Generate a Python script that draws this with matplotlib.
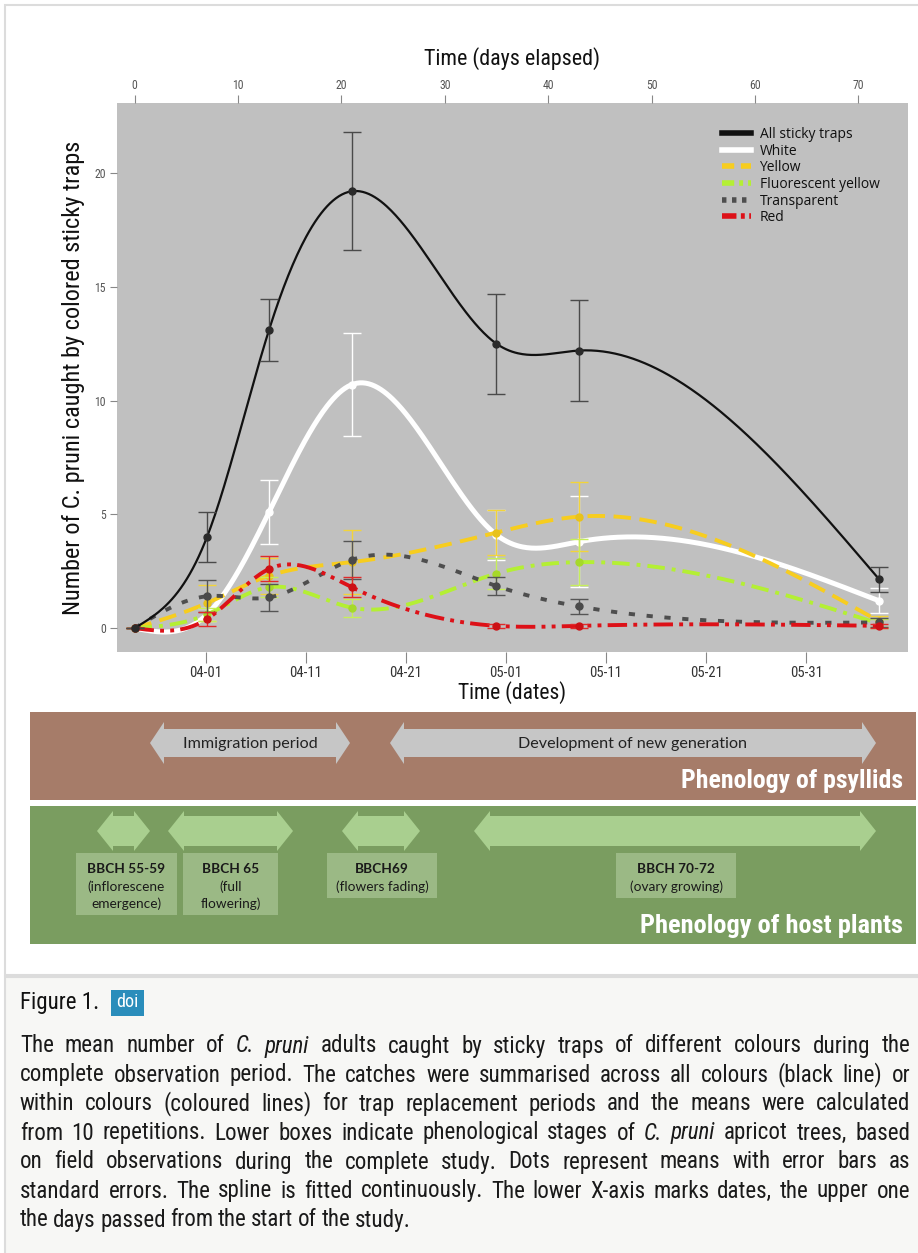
import matplotlib
matplotlib.use('Agg')
import matplotlib.pyplot as plt
import numpy as np
from matplotlib import font_manager
from matplotlib.patches import Rectangle, Polygon
from matplotlib.lines import Line2D

# sampling days (days elapsed) with mean catches and standard errors
days = [0, 7, 13, 21, 35, 43, 72]
all_mean = [0, 4.0, 13.1, 19.2, 12.5, 12.2, 2.15]
all_se = [0, 1.1, 1.35, 2.6, 2.2, 2.2, 0.55]
white_mean = [0, 0.6, 5.1, 10.7, 4.1, 3.8, 1.2]
white_se = [0, 0.3, 1.4, 2.25, 1.1, 2.0, 0.55]
yellow_mean = [0, 1.1, 2.3, 2.9, 4.2, 4.9, 0.3]
yellow_se = [0, 0.8, 0.8, 1.4, 1.0, 1.5, 0.25]
fluo_mean = [0, 0.6, 1.8, 0.9, 2.4, 2.9, 0.2]
fluo_se = [0, 0.3, 0.45, 0.4, 0.7, 1.0, 0.2]
transp_mean = [0, 1.4, 1.35, 3.0, 1.85, 0.95, 0.25]
transp_se = [0, 0.7, 0.6, 0.85, 0.4, 0.33, 0.2]
red_mean = [0, 0.4, 2.6, 1.8, 0.1, 0.1, 0.1]
red_se = [0, 0.3, 0.55, 0.45, 0.08, 0.08, 0.08]

day_ticks = [0, 10, 20, 30, 40, 50, 60, 70]
date_ticks = [0, 10, 20, 30, 40, 50, 60]          # days after 1 April
date_labels = ['04-01', '04-11', '04-21', '05-01', '05-11', '05-21', '05-31']
y_ticks = [0, 5, 10, 15, 20]

# phenology bars (pixel spans on the page)
psyllid_stages = [('Immigration period', 150, 350), ('Development of new generation', 390, 876)]
plant_arrows = [(97, 150), (168, 293), (342, 420), (474, 876)]
plant_labels = [
    (76, 177, 915, ['BBCH 55-59', '(inflorescene', 'emergence)']),
    (183, 278, 915, ['BBCH 65', '(full', 'flowering)']),
    (327, 437, 898, ['BBCH69', '(flowers fading)']),
    (616, 736, 898, ['BBCH 70-72', '(ovary growing)']),
]

caption = [
    "The mean number of *C.* *pruni* adults caught by sticky traps of different colours during the",
    "complete observation period. The catches were summarised across all colours (black line) or",
    "within colours (coloured lines) for trap replacement periods and the means were calculated",
    "from 10 repetitions. Lower boxes indicate phenological stages of *C.* *pruni* apricot trees, based",
    "on field observations during the complete study. Dots represent means with error bars as",
    "standard errors. The spline is fitted continuously. The lower X-axis marks dates, the upper one",
    "the days passed from the start of the study.",
]

names = {f.name for f in font_manager.fontManager.ttflist}
NARROW = 'Liberation Sans'
for cand in ['Liberation Sans Narrow', 'Roboto Condensed', 'Arial Narrow', 'Open Sans Condensed']:
    if cand in names:
        NARROW = cand
        break
# size factor so text keeps the reference widths whichever family was found
K = 1.0 if NARROW != 'Liberation Sans' else 0.88
BODY = 'Lato' if 'Lato' in names else 'DejaVu Sans'
UI = 'Open Sans' if 'Open Sans' in names else 'DejaVu Sans'


def natural_spline(x, y, num=500):
    x = np.asarray(x, float)
    y = np.asarray(y, float)
    n = len(x)
    h = np.diff(x)
    A = np.zeros((n, n))
    r = np.zeros(n)
    A[0, 0] = A[-1, -1] = 1
    for i in range(1, n - 1):
        A[i, i - 1] = h[i - 1]
        A[i, i] = 2 * (h[i - 1] + h[i])
        A[i, i + 1] = h[i]
        r[i] = 3 * ((y[i + 1] - y[i]) / h[i] - (y[i] - y[i - 1]) / h[i - 1])
    c = np.linalg.solve(A, r)
    b = (y[1:] - y[:-1]) / h - h * (2 * c[:-1] + c[1:]) / 3
    d = (c[1:] - c[:-1]) / (3 * h)
    xs = np.linspace(x[0], x[-1], num)
    k = np.clip(np.searchsorted(x, xs, side='right') - 1, 0, n - 2)
    t = xs - x[k]
    return xs, y[k] + b[k] * t + c[k] * t ** 2 + d[k] * t ** 3


def darrow(ax, x0, x1, yc, body, head, hw, color):
    pts = [(x0, yc), (x0 + hw, yc - head / 2), (x0 + hw, yc - body / 2), (x1 - hw, yc - body / 2),
           (x1 - hw, yc - head / 2), (x1, yc), (x1 - hw, yc + head / 2), (x1 - hw, yc + body / 2),
           (x0 + hw, yc + body / 2), (x0 + hw, yc + head / 2)]
    ax.add_patch(Polygon(pts, closed=True, facecolor=color, edgecolor='none'))


W, H = 918, 1253
fig = plt.figure(figsize=(W / 100, H / 100), dpi=100, facecolor='white')

# page layer in pixel coordinates
deco = fig.add_axes([0, 0, 1, 1], zorder=0)
deco.set_xlim(0, W)
deco.set_ylim(H, 0)
deco.axis('off')
deco.add_patch(Rectangle((5, 5), W, 970, facecolor='white', edgecolor='#dcdcdc', lw=1.5))
deco.add_patch(Rectangle((5, 977), W, H, facecolor='#f7f7f5', edgecolor='#dcdcdc', lw=1.5))

# psyllid phenology
deco.add_patch(Rectangle((30, 712), 886, 88, facecolor='#a67c69', edgecolor='none'))
for name, x0, x1 in psyllid_stages:
    darrow(deco, x0, x1, 743, 28, 42, 14, '#c6c6c6')
    deco.text((x0 + x1) / 2, 744, name, ha='center', va='center', fontsize=11.6,
              family=BODY, color='#222222')
deco.text(903, 781, 'Phenology of psyllids', ha='right', va='center', fontsize=18.5 * K,
          family=NARROW, weight='bold', color='white')

# host plant phenology
deco.add_patch(Rectangle((30, 806), 886, 138, facecolor='#7a9d60', edgecolor='none'))
for x0, x1 in plant_arrows:
    darrow(deco, x0, x1, 831, 30, 40, 16, '#a9cf8f')
for x0, x1, yb, lines in plant_labels:
    deco.add_patch(Rectangle((x0, 853), x1 - x0, yb - 853, facecolor='#9bb985', edgecolor='none'))
    for i, s in enumerate(lines):
        deco.text((x0 + x1) / 2, 869 + 17.5 * i, s, ha='center', va='center', fontsize=9.8,
                  family=BODY, weight='bold' if i == 0 else 'normal', color='#1a1a1a')
deco.text(903, 926, 'Phenology of host plants', ha='right', va='center', fontsize=19 * K,
          family=NARROW, weight='bold', color='white')

# caption
deco.text(20, 1003, 'Figure 1.', ha='left', va='center', fontsize=16.5 * K, family=NARROW, color='#111111')
deco.add_patch(Rectangle((111, 990), 33, 26, facecolor='#2a8dbb', edgecolor='none'))
deco.text(127.5, 1002, 'doi', ha='center', va='center', fontsize=13 * K, family=NARROW, color='white')

renderer = fig.canvas.get_renderer()
left, right = 20, 910
for li, line in enumerate(caption):
    y = 1046 + 29 * li
    words = line.split(' ')
    arts = []
    for w in words:
        ital = w.startswith('*')
        t = deco.text(0, y, w.strip('*'), ha='left', va='center', fontsize=16.6 * K, family=NARROW,
                      style='italic' if ital else 'normal', color='#1a1a1a')
        arts.append(t)
    widths = [a.get_window_extent(renderer).width for a in arts]
    if li < len(caption) - 1:
        gap = (right - left - sum(widths)) / (len(words) - 1)
    else:
        gap = 4.5
    x = left
    for a, wd in zip(arts, widths):
        a.set_x(x)
        x += wd + gap

# main chart
ax = fig.add_axes([117 / W, 1 - 652 / H, (908 - 117) / W, (652 - 103) / H], zorder=2)
ax.set_facecolor('#c0c0c0')
for s in ax.spines.values():
    s.set_visible(False)

series = [
    ('White', white_mean, white_se, 'white', 3.6, None, 'white', 'white', 3),
    ('Yellow', yellow_mean, yellow_se, '#f7cd1f', 2.8, (4.5, 2.2), '#f2d43a', '#e8c21a', 4),
    ('Fluorescent yellow', fluo_mean, fluo_se, '#b4ef34', 2.8, (4.5, 1.8, 1.0, 1.8), '#c6ee5a', '#a6d92a', 5),
    ('Transparent', transp_mean, transp_se, '#4e4e4e', 2.8, (1.6, 3.0), '#555555', '#4a4a4a', 6),
    ('Red', red_mean, red_se, '#dd1118', 2.8, (5, 1.6, 1.0, 1.6, 1.0, 1.6), '#e02a2a', '#cc1015', 7),
    ('All sticky traps', all_mean, all_se, '#111111', 1.6, None, '#4a4a4a', '#2a2a2a', 8),
]
for label, mean, se, col, lw, dash, ecol, mcol, z in series:
    xs, ys = natural_spline(days, mean)
    ln, = ax.plot(xs, ys, color=col, lw=lw, zorder=z, solid_capstyle='butt', dash_capstyle='butt')
    if dash:
        ln.set_dashes(dash)
    ax.errorbar(days, mean, yerr=se, fmt='o', ms=5, color=mcol, ecolor=ecol, elinewidth=1,
                capsize=6.5, capthick=1, zorder=z + 0.5)

ax.set_xlim(-1.7, 74.8)
ax.set_ylim(-1.05, 23.08)

ax.xaxis.set_ticks_position('top')
ax.xaxis.set_label_position('top')
ax.set_xticks(day_ticks)
ax.set_xticklabels([str(d) for d in day_ticks])
ax.tick_params(axis='x', direction='out', length=6, width=0.8, color='#888888', labelsize=8.5 * K,
               labelcolor='#555555', pad=2)
ax.set_xlabel('Time (days elapsed)', fontsize=15.8 * K, family=NARROW, color='#111111', labelpad=10)

ax.set_yticks(y_ticks)
ax.tick_params(axis='y', direction='out', length=5, width=0.8, color='#888888', labelsize=8.5 * K,
               labelcolor='#555555', pad=3)
ax.set_ylabel('Number of C. pruni caught by colored sticky traps', fontsize=17.5 * K, family=NARROW,
              color='#111111', labelpad=7)


def to_dates(e):
    return np.asarray(e) * 1.033 - 7.1


def to_days(c):
    return (np.asarray(c) + 7.1) / 1.033


sec = ax.secondary_xaxis('bottom', functions=(to_dates, to_days))
sec.set_xticks(date_ticks)
sec.set_xticklabels(date_labels)
sec.tick_params(direction='out', length=8, width=0.8, color='#888888', labelsize=10.5 * K,
                labelcolor='#333333', pad=2)
sec.set_xlabel('Time (dates)', fontsize=15.5 * K, family=NARROW, color='#111111', labelpad=1)
for s in sec.spines.values():
    s.set_visible(False)
for lab in ax.get_xticklabels() + ax.get_yticklabels() + sec.get_xticklabels():
    lab.set_family(NARROW)

handles = [
    Line2D([], [], color='#111111', lw=4),
    Line2D([], [], color='white', lw=4),
    Line2D([], [], color='#f7cd1f', lw=4, dashes=(2.2, 1.2)),
    Line2D([], [], color='#b4ef34', lw=4, dashes=(2.2, 0.9, 0.7, 0.9)),
    Line2D([], [], color='#4e4e4e', lw=4, dashes=(0.8, 1.0)),
    Line2D([], [], color='#dd1118', lw=4, dashes=(2.6, 0.8, 0.7, 0.8, 0.7, 0.8)),
]
labels = ['All sticky traps', 'White', 'Yellow', 'Fluorescent yellow', 'Transparent', 'Red']
leg = ax.legend(handles, labels, loc='upper left', bbox_to_anchor=((722 - 117) / 791, (652 - 127) / 549),
                frameon=False, handlelength=2.1, handletextpad=0.6, labelspacing=0.12,
                borderpad=0, borderaxespad=0, prop={'family': UI, 'size': 10})
for t in leg.get_texts():
    t.set_color('#111111')

fig.savefig('out.png', dpi=100)
